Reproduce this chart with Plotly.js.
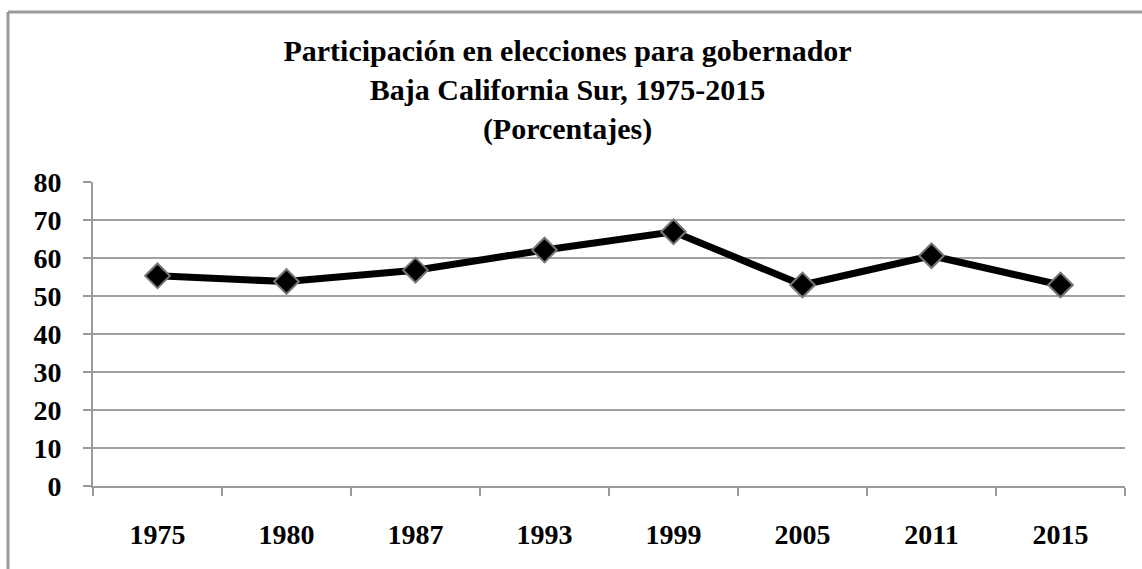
<!DOCTYPE html>
<html>
<head>
<meta charset="utf-8">
<script src="https://cdn.plot.ly/plotly-3.0.1.min.js"></script>
<style>
  html, body { margin: 0; padding: 0; background: #ffffff; }
  #chart { width: 1142px; height: 569px; }
</style>
</head>
<body>
<div id="chart"></div>
<script>
const years = ["1975", "1980", "1987", "1993", "1999", "2005", "2011", "2015"];
const participation = [55.3, 53.8, 56.8, 62.1, 66.9, 52.9, 60.6, 52.9];
const yTicks = [0, 10, 20, 30, 40, 50, 60, 70, 80];

const titleText = "Participación en elecciones para gobernador<br>Baja California Sur, 1975-2015<br>(Porcentajes)";

const W = 1142, H = 569;
const margin = { l: 93, r: 17, t: 182, b: 83 };
const pw = W - margin.l - margin.r;
const ph = H - margin.t - margin.b;
const px = x => (x - margin.l) / pw;
const py = y => (H - margin.b - y) / ph;

const SERIF = "'Liberation Serif', 'Times New Roman', Times, serif";

const trace = {
  type: "scatter",
  mode: "lines+markers",
  x: years,
  y: participation,
  line: { color: "#000000", width: 7 },
  marker: {
    symbol: "diamond",
    size: 19,
    color: "#000000",
    line: { color: "#777777", width: 2 }
  },
  hoverinfo: "x+y",
  showlegend: false
};

const tickFont = { family: SERIF, size: 28, color: "#000000", weight: "bold" };

const layout = {
  width: W,
  height: H,
  margin: margin,
  paper_bgcolor: "#ffffff",
  plot_bgcolor: "#ffffff",
  title: {
    text: titleText,
    font: { family: SERIF, size: 30, color: "#000000", weight: "bold" },
    xref: "container",
    x: 0.497,
    xanchor: "center",
    yref: "container",
    y: 1 - 61 / H,
    yanchor: "top"
  },
  xaxis: {
    type: "category",
    range: [-0.5, years.length - 0.5],
    showgrid: false,
    showline: true,
    linecolor: "#9a9a9a",
    linewidth: 2,
    ticks: "outside",
    tickson: "boundaries",
    ticklen: 8,
    tickwidth: 2,
    tickcolor: "#9a9a9a",
    tickfont: tickFont,
    ticklabelstandoff: 22,
    fixedrange: true
  },
  yaxis: {
    range: [0, 80],
    tickvals: yTicks,
    ticktext: yTicks.map(String),
    showgrid: true,
    gridcolor: "#a0a0a0",
    gridwidth: 2,
    zeroline: false,
    showline: true,
    linecolor: "#9a9a9a",
    linewidth: 2,
    ticks: "outside",
    ticklen: 8,
    tickwidth: 2,
    tickcolor: "#9a9a9a",
    tickfont: tickFont,
    ticklabelstandoff: 16,
    fixedrange: true
  },
  shapes: [
    {
      type: "line", xref: "paper", yref: "paper",
      x0: px(8), x1: px(8), y0: py(H + 5), y1: py(12),
      line: { color: "#9a9a9a", width: 3 }
    },
    {
      type: "line", xref: "paper", yref: "paper",
      x0: px(8), x1: px(W + 5), y0: py(12), y1: py(12),
      line: { color: "#9a9a9a", width: 3 }
    }
  ]
};

Plotly.newPlot("chart", [trace], layout, { displayModeBar: false, responsive: false });
</script>
</body>
</html>
